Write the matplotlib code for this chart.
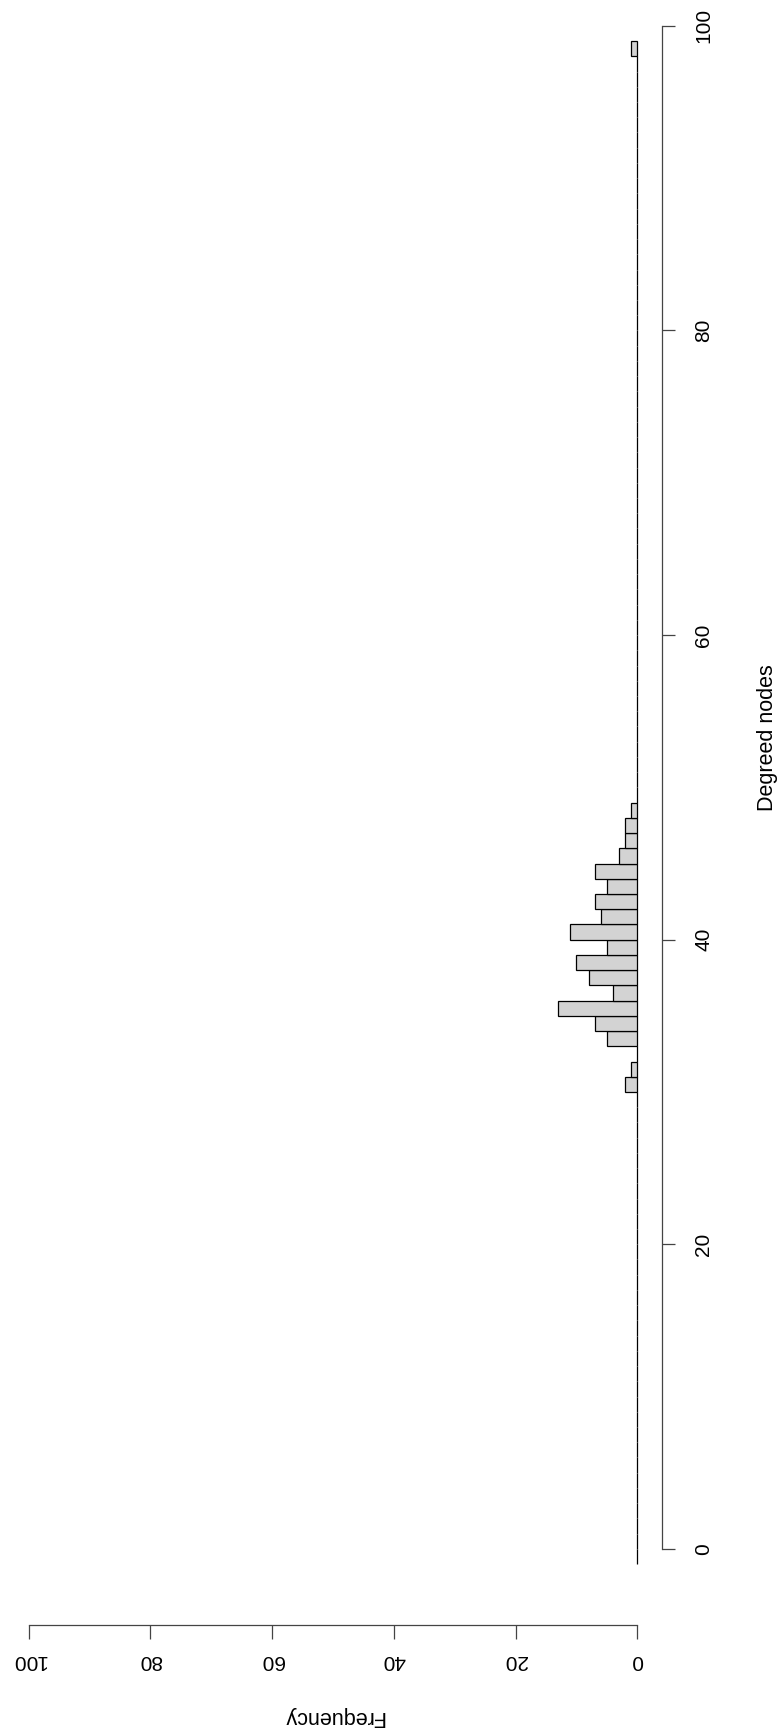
import numpy as np
import matplotlib.pyplot as plt

# histogram of node degrees, bins of width 1 from -1 to 99
bin_edges_lo = -1
bin_edges_hi = 99
degree_bins = [30, 31, 33, 34, 35, 36, 37, 38, 39, 40, 41, 42, 43, 44, 45, 46, 47, 48, 98]
freqs = [2, 1, 5, 7, 13, 4, 8, 10, 5, 11, 6, 7, 5, 7, 3, 2, 2, 1, 1]
deg_ticks = [0, 20, 40, 60, 80, 100]
freq_ticks = [0, 20, 40, 60, 80, 100]

lefts = np.arange(bin_edges_lo, bin_edges_hi)
counts = np.zeros(len(lefts))
for d, f in zip(degree_bins, freqs):
    counts[d - bin_edges_lo] = f

plt.rcParams['font.family'] = ['Liberation Sans', 'DejaVu Sans']

fig = plt.figure(figsize=(7.77, 17.32), dpi=100)
ax = fig.add_axes([4.4 / 777, 1 - 1625 / 1732, (661.7 - 4.4) / 777, 1625 / 1732])

ax.barh(lefts, counts, height=1, align='edge', color='#d3d3d3',
        edgecolor='black', linewidth=0.9)

ax.set_xlim(104, -4)
ax.set_ylim(-5, 101.7)

for s in ['top', 'left']:
    ax.spines[s].set_visible(False)
ax.spines['right'].set_bounds(0, 100)
ax.spines['bottom'].set_bounds(0, 100)
for s in ['right', 'bottom']:
    ax.spines[s].set_color('#444444')
    ax.spines[s].set_linewidth(0.9)

ax.yaxis.tick_right()
ax.yaxis.set_label_position('right')
ax.set_yticks(deg_ticks)
ax.set_xticks(freq_ticks)
ax.tick_params(axis='y', length=9.5, width=0.9, color='#444444', pad=14, labelsize=15)
ax.tick_params(axis='x', length=10, width=0.9, color='#444444', pad=9, labelsize=15)
for lab in ax.get_yticklabels():
    lab.set_rotation(90)
    lab.set_va('center')
for lab in ax.get_xticklabels():
    lab.set_rotation(180)

ax.set_xlabel('Frequency', fontsize=15.5, rotation=180)
ax.set_ylabel('Degreed nodes', fontsize=15.5, rotation=90)
ax.xaxis.set_label_coords(329 / (661.7 - 4.4), -(1717 - 1625) / 1625)
ax.yaxis.set_label_coords((767 - 4.4) / (661.7 - 4.4), 1 - 738 / 1625)
ax.xaxis.label.set_va('center')
ax.yaxis.label.set_va('center')

fig.savefig('out.png', dpi=100)
